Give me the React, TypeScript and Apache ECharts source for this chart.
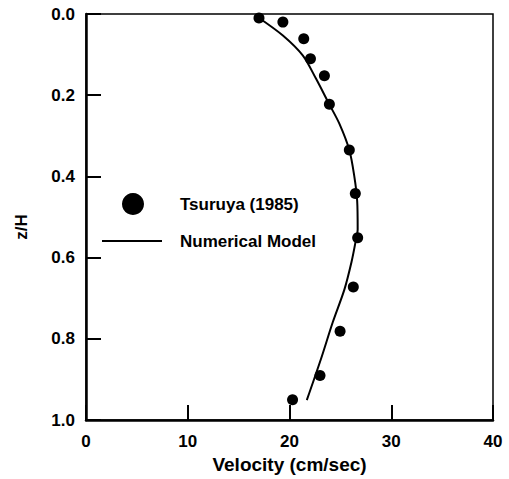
import React, { useEffect, useRef } from "react";
import * as echarts from "echarts";

const xTicks = [0, 10, 20, 30, 40];
const yTicks = [0.0, 0.2, 0.4, 0.6, 0.8, 1.0];

// Tsuruya (1985) measurements: velocity (cm/sec), z/H
const obsVelocity = [17.0, 19.35, 21.4, 22.06, 23.43, 23.92, 25.88, 26.47, 26.7, 26.27, 24.97, 23.0, 20.3];
const obsDepth = [0.01, 0.02, 0.061, 0.11, 0.152, 0.222, 0.335, 0.442, 0.551, 0.672, 0.781, 0.89, 0.95];

// Numerical model profile
const modelVelocity = [16.9, 19.35, 21.3, 22.6, 23.86, 24.9, 25.88, 26.37, 26.65, 26.7, 26.5, 26.1, 25.4, 24.25, 23.1, 21.7];
const modelDepth = [0.008, 0.053, 0.102, 0.159, 0.22, 0.27, 0.335, 0.4, 0.46, 0.53, 0.56, 0.61, 0.678, 0.759, 0.849, 0.951];

const legendNames = ["Tsuruya (1985)", "Numerical Model"];

const FONT = "'Liberation Sans', Arial, sans-serif";

export default function App() {
  const ref = useRef<HTMLDivElement>(null);
  useEffect(() => {
    if (!ref.current) return;
    const chart = echarts.init(ref.current, null, { renderer: "svg" });
    const obs = obsVelocity.map((v, i) => [v, obsDepth[i]]);
    const model = modelVelocity.map((v, i) => [v, modelDepth[i]]);
    chart.setOption({
      animation: false,
      backgroundColor: "#fff",
      grid: {
        left: 86,
        top: 14,
        width: 407,
        height: 408,
        show: true,
        borderColor: "#000",
        borderWidth: 1.5,
        backgroundColor: "transparent",
      },
      xAxis: {
        type: "value",
        position: "bottom",
        min: xTicks[0],
        max: xTicks[xTicks.length - 1],
        interval: 10,
        name: "Velocity (cm/sec)",
        nameLocation: "middle",
        nameGap: 33,
        nameTextStyle: { fontFamily: FONT, fontWeight: "bold", fontSize: 19, color: "#000" },
        axisLine: { onZero: false, lineStyle: { color: "#000", width: 2.5 } },
        axisTick: { inside: true, length: 15, lineStyle: { color: "#000", width: 2 } },
        axisLabel: { margin: 13, fontFamily: FONT, fontWeight: "bold", fontSize: 17, color: "#000" },
        splitLine: { show: false },
      },
      yAxis: {
        type: "value",
        inverse: true,
        position: "left",
        min: yTicks[0],
        max: yTicks[yTicks.length - 1],
        interval: 0.2,
        name: "z/H",
        nameLocation: "middle",
        nameGap: 56,
        nameTextStyle: { fontFamily: FONT, fontWeight: "bold", fontSize: 17, color: "#000", padding: [0, 20, 0, 0] },
        axisLine: { onZero: false, lineStyle: { color: "#000", width: 2.5 } },
        axisTick: { inside: true, length: 15, lineStyle: { color: "#000", width: 2 } },
        axisLabel: {
          margin: 11,
          fontFamily: FONT,
          fontWeight: "bold",
          fontSize: 17,
          color: "#000",
          formatter: (v: number) => v.toFixed(1),
        },
        splitLine: { show: false },
      },
      series: [
        {
          name: legendNames[1],
          type: "line",
          data: model,
          smooth: 0.3,
          showSymbol: false,
          lineStyle: { color: "#000", width: 2 },
          z: 2,
        },
        {
          name: legendNames[0],
          type: "scatter",
          data: obs,
          symbol: "circle",
          symbolSize: 11,
          itemStyle: { color: "#000", opacity: 1 },
          z: 3,
        },
      ],
      graphic: [
        { type: "circle", shape: { cx: 133, cy: 204, r: 11 }, style: { fill: "#000" } },
        { type: "line", shape: { x1: 102, y1: 241, x2: 162, y2: 241 }, style: { stroke: "#000", lineWidth: 2 } },
        {
          type: "text",
          x: 180,
          y: 204,
          style: { text: legendNames[0], fontFamily: FONT, fontWeight: "bold", fontSize: 17, fill: "#000", verticalAlign: "middle" },
        },
        {
          type: "text",
          x: 180,
          y: 241,
          style: { text: legendNames[1], fontFamily: FONT, fontWeight: "bold", fontSize: 17, fill: "#000", verticalAlign: "middle" },
        },
      ],
    });
    return () => chart.dispose();
  }, []);
  return <div ref={ref} style={{ position: "fixed", left: 0, top: 0, width: 509, height: 479 }} />;
}
